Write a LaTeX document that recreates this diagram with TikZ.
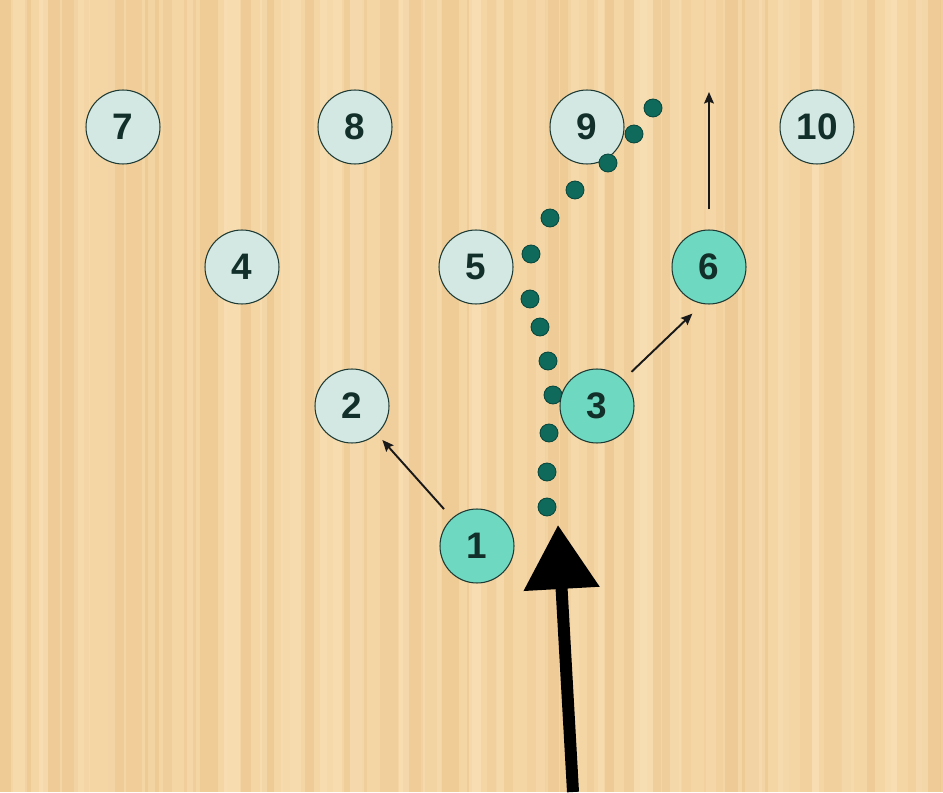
\documentclass[tikz,border=0pt]{standalone}
\usepackage{fontspec}
\setmainfont{Liberation Sans}
\usetikzlibrary{arrows.meta, positioning}
\definecolor{wood}{HTML}{F4D5A4}
\definecolor{woodlight}{HTML}{FAE4BC}
\definecolor{wooddark}{HTML}{E6BA7E}
\definecolor{pinlight}{HTML}{D3E8E3}
\definecolor{pinhit}{HTML}{6FD8C1}
\definecolor{pinedge}{HTML}{1E3A34}
\definecolor{dotgreen}{HTML}{0F6A5B}
\definecolor{dotedge}{HTML}{0A473D}
\definecolor{numtext}{HTML}{122F29}

\begin{document}
\begin{tikzpicture}[
    x=0.02cm, y=0.02cm,
    pin/.style={
      circle, draw=pinedge, line width=0.6pt,
      fill=pinlight, text=numtext,
      font=\bfseries\fontsize{21}{21}\selectfont,
      minimum size=1.48cm, inner sep=0pt
    },
    hitpin/.style={pin, fill=pinhit},
    balldot/.style={
      circle, draw=dotedge, line width=0.5pt,
      fill=dotgreen, minimum size=0.36cm, inner sep=0pt
    },
    arrow/.style={-{Stealth[length=6.5pt, width=5.5pt, inset=1pt]}, line width=1.1pt, draw=black!90},
    bigarrow/.style={-{Triangle[length=1.28cm, width=1.46cm]}, line width=0.24cm, draw=black}
  ]

    % ── Lane (wood boards) ───────────────────────────────────────────────
    \useasboundingbox (0,0) rectangle (943,792);
    \clip (0,0) rectangle (943,792);
    \fill[wood] (0,0) rectangle (943,792);
    \pgfmathsetseed{23}
    \foreach \i in {0,...,47} {
      \pgfmathsetmacro\sx{\i*20+rnd*8}
      \pgfmathsetmacro\sw{5+rnd*15}
      \pgfmathsetmacro\so{0.10+rnd*0.30}
      \fill[wooddark, opacity=\so] (\sx,0) rectangle ++(\sw,792);
    }
    \foreach \i in {0,...,27} {
      \pgfmathsetmacro\sx{\i*35+rnd*15}
      \pgfmathsetmacro\sw{6+rnd*16}
      \pgfmathsetmacro\so{0.25+rnd*0.35}
      \fill[woodlight, opacity=\so] (\sx,0) rectangle ++(\sw,792);
    }

    % ── Standing pins ────────────────────────────────────────────────────
    \foreach \n/\x/\y in {7/123/665, 8/355/665, 9/587/665, 10/817/665,
                          4/242/525, 5/476/525, 2/352/386}
      \node[pin] (p\n) at (\x,\y) {\n};

    % ── Ball path ────────────────────────────────────────────────────────
    \foreach \x/\y [count=\k] in {653/684, 634/658, 608/629, 575/602, 550/574,
                                 531/538, 530/493, 540/465, 548/431, 553/397,
                                 549/359, 547/320, 547/285}
      \node[balldot] (d\k) at (\x,\y) {};

    % ── Pins hit by the ball ─────────────────────────────────────────────
    \node[hitpin] (p6) at (709,525) {6};
    \node[hitpin] (p3) at (597,386) {3};
    \node[hitpin] (p1) at (477,246) {1};

    % ── Pin deflections ──────────────────────────────────────────────────
    \coordinate (top6) at (709,700);
    \draw[arrow, shorten <=0.24cm, shorten >=0.16cm] (p1) -- (p2);
    \draw[arrow, shorten <=0.22cm, shorten >=0.28cm] (p3.45) -- (p6.260);
    \draw[arrow, shorten <=0.4cm] (p6) -- (top6);

    % ── Ball delivery ────────────────────────────────────────────────────
    \coordinate (rollTail) at (573,0);
    \coordinate (rollTip)  at (558,267);
    \draw[bigarrow] (rollTail) -- (rollTip);

  \end{tikzpicture}
\end{document}
